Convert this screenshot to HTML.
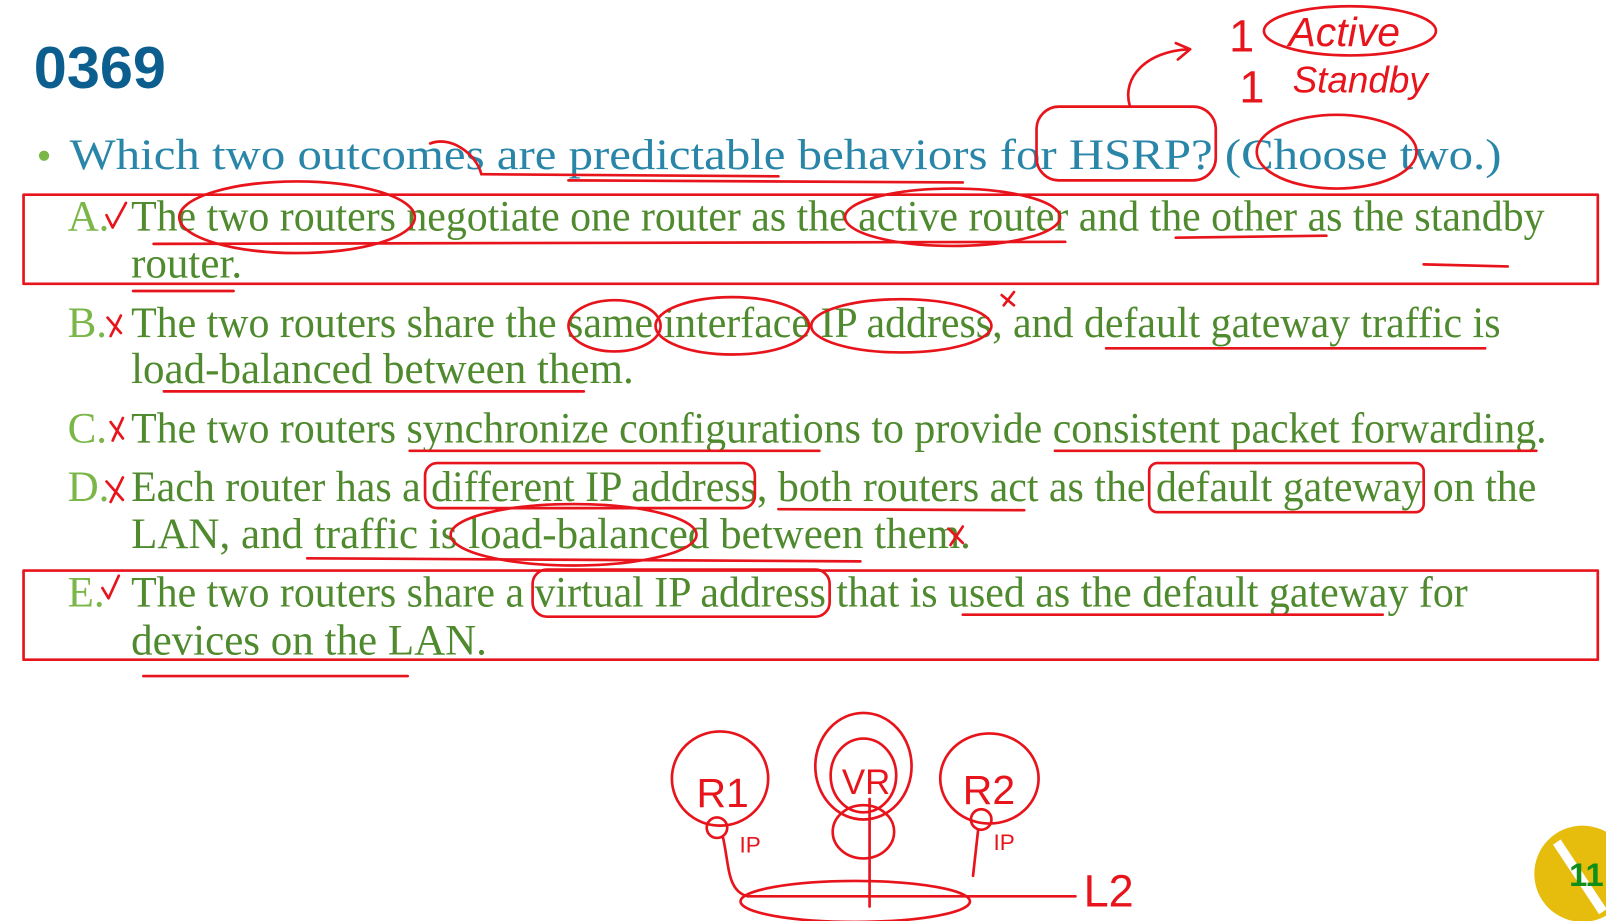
<!DOCTYPE html>
<html><head><meta charset="utf-8"><style>
html,body{margin:0;padding:0;background:#fff;overflow:hidden}
svg{display:block}
.q{font-family:"Liberation Serif",serif;font-size:42px;fill:#2a86a8}
.l{font-family:"Liberation Serif",serif;font-size:42px;fill:#7ab648}
.t{font-family:"Liberation Serif",serif;font-size:42px;fill:#4f8a2e}
.r{fill:none;stroke:#e8141c;stroke-width:2.6;stroke-linecap:round;stroke-linejoin:round}
.hw{font-family:"Liberation Sans",sans-serif;fill:#e8141c}
</style></head><body>
<svg width="1606" height="921" viewBox="0 0 1568 899">
<text x="33" y="86" font-family="Liberation Sans,sans-serif" font-weight="bold" font-size="58" fill="#0b5e8e">0369</text>
<circle cx="43" cy="152" r="5" fill="#7ab648"/>
<text class="q" x="68" y="165" textLength="1398" lengthAdjust="spacingAndGlyphs">Which two outcomes are predictable behaviors for HSRP? (Choose two.)</text>

<g>
<text class="l" x="66" y="225">A.</text>
<text class="t" x="128" y="225" textLength="1380" lengthAdjust="spacingAndGlyphs">The two routers negotiate one router as the active router and the other as the standby</text>
<text class="t" x="128" y="271">router.</text></g>
<g>
<text class="l" x="66" y="329">B.</text>
<text class="t" x="128" y="329" textLength="1337" lengthAdjust="spacingAndGlyphs">The two routers share the same interface IP address, and default gateway traffic is</text>
<text class="t" x="128" y="374">load-balanced between them.</text></g>
<g>
<text class="l" x="66" y="432">C.</text>
<text class="t" x="128" y="432" textLength="1382" lengthAdjust="spacingAndGlyphs">The two routers synchronize configurations to provide consistent packet forwarding.</text></g>
<g>
<text class="l" x="66" y="489">D.</text>
<text class="t" x="128" y="489" textLength="1372" lengthAdjust="spacingAndGlyphs">Each router has a different IP address, both routers act as the default gateway on the</text>
<text class="t" x="128" y="535">LAN, and traffic is load-balanced between them.</text></g>
<g>
<text class="l" x="66" y="592">E.</text>
<text class="t" x="128" y="592" textLength="1305" lengthAdjust="spacingAndGlyphs">The two routers share a virtual IP address that is used as the default gateway for</text>
<text class="t" x="128" y="639">devices on the LAN.</text></g>

<g>
<rect class="r" x="23" y="190" width="1537" height="87"/>
<rect class="r" x="23" y="557" width="1537" height="87"/>
<text class="hw" x="1200" y="50" font-size="44">1</text>
<text class="hw" x="1258" y="45" font-size="40" font-style="italic">Active</text>
<ellipse class="r" cx="1318" cy="30" rx="84" ry="24"/>
<text class="hw" x="1210" y="100" font-size="44">1</text>
<text class="hw" x="1262" y="90" font-size="36" font-style="italic">Standby</text>
<path class="r" d="M1103,103 C1095,75 1120,50 1160,48 M1148,42 L1162,48 L1150,58"/>
<rect class="r" x="1012" y="104" width="175" height="72" rx="22"/>
<ellipse class="r" cx="1305" cy="148" rx="78" ry="36"/>
<path class="r" d="M420,140 C440,132 465,150 470,170"/>
<ellipse class="r" cx="290" cy="212" rx="115" ry="35"/>
<ellipse class="r" cx="930" cy="212" rx="105" ry="28"/>
<path class="r" d="M104,210 L110,222 L123,198"/>
<path class="r" d="M105,310 L118,325 M118,308 L108,328"/>
<ellipse class="r" cx="600" cy="318" rx="45" ry="25"/>
<ellipse class="r" cx="715" cy="318" rx="75" ry="28"/>
<ellipse class="r" cx="880" cy="318" rx="88" ry="26"/>
<path class="r" d="M978,288 L990,298 M990,285 L980,298"/>
<path class="r" d="M108,412 L120,428 M120,408 L110,430"/>
<path class="r" d="M104,470 L120,488 M120,466 L108,490"/>
<path class="r" d="M926,516 L940,530 M940,514 L928,532"/>
<rect class="r" x="415" y="452" width="322" height="44" rx="12"/>
<rect class="r" x="1122" y="452" width="268" height="48" rx="8"/>
<ellipse class="r" cx="560" cy="522" rx="120" ry="30"/>
<rect class="r" x="520" y="556" width="290" height="46" rx="14"/>
<path class="r" d="M100,574 L106,584 L116,562"/>
<path class="r" d="M555,176 L940,178 M470,170 L760,172 M1148,232 L1295,230 M1390,258 L1472,260 M140,660 L398,660 M130,284 L228,284 M1080,340 L1450,340 M160,382 L570,382 M400,440 L800,440 M1030,440 L1500,440 M940,600 L1350,600 M760,497 L1000,498 M300,545 L840,548 M150,238 L1040,236"/>
<ellipse class="r" cx="703" cy="760" rx="47" ry="46"/>
<text class="hw" x="680" y="788" font-size="40">R1</text>
<ellipse class="r" cx="843" cy="748" rx="47" ry="52"/>
<ellipse class="r" cx="843" cy="757" rx="32" ry="36"/>
<text class="hw" x="822" y="775" font-size="34">VR</text>
<ellipse class="r" cx="966" cy="760" rx="48" ry="44"/>
<text class="hw" x="940" y="785" font-size="40">R2</text>
<ellipse class="r" cx="843" cy="812" rx="30" ry="26"/>
<circle class="r" cx="700" cy="808" r="10"/>
<circle class="r" cx="958" cy="800" r="10"/>
<text class="hw" x="722" y="832" font-size="22">IP</text>
<text class="hw" x="970" y="830" font-size="22">IP</text>
<path class="r" d="M706,818 C712,845 710,870 730,875 L1050,875 M849,780 L849,885 M955,810 L950,855"/>
<ellipse class="r" cx="835" cy="880" rx="112" ry="20"/>
<text class="hw" x="1058" y="885" font-size="44">L2</text>
</g>
<g>
<circle cx="1545" cy="853" r="47" fill="#e6bd0c"/>
<path d="M1520,822 L1565,890" stroke="#fff" stroke-width="9" fill="none"/>
<text x="1532" y="865" font-family="Liberation Sans,sans-serif" font-weight="bold" font-size="32" fill="#0f8f1a">11</text>
</g>
</svg>
</body></html>
